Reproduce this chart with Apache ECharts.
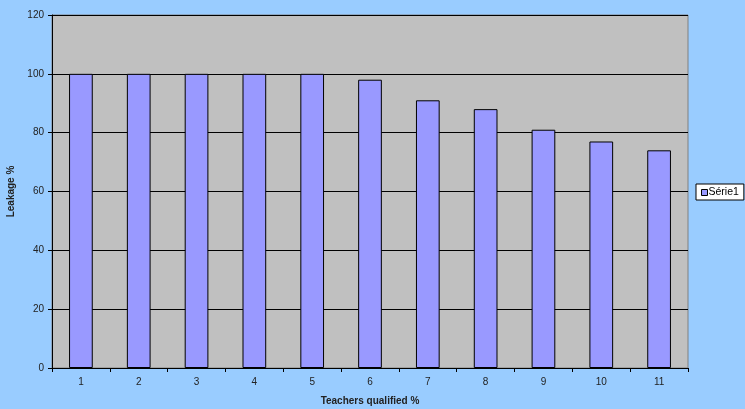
<!DOCTYPE html>
<html>
<head>
<meta charset="utf-8">
<script src="https://cdn.jsdelivr.net/npm/echarts@6/dist/echarts.min.js"></script>
<style>
  html, body { margin: 0; padding: 0; background: #99CCFF; }
  #chart { width: 745px; height: 409px; }
</style>
</head>
<body>
<div id="chart"></div>
<script>
// Categories along the x axis (teachers qualified %)
const categories = ['1', '2', '3', '4', '5', '6', '7', '8', '9', '10', '11'];
// Leakage % for each category
const serie1 = [100, 100, 100, 100, 100, 98, 91, 88, 81, 77, 74];
const seriesName = 'Série1';
const xTitle = 'Teachers qualified %';
const yTitle = 'Leakage %';

const font = 'Liberation Sans, Arial, sans-serif';
const chart = echarts.init(document.getElementById('chart'), null, { renderer: 'canvas' });

chart.setOption({
  backgroundColor: '#99CCFF',
  animation: false,
  grid: {
    left: 52, right: 57, top: 15, bottom: 41,
    containLabel: false,
    outerBoundsMode: 'none',
    show: true,
    backgroundColor: '#C0C0C0',
    borderColor: '#808080',
    borderWidth: 1
  },
  legend: {
    data: [{ name: seriesName, itemStyle: { color: '#9999FF', borderColor: '#000', borderWidth: 1 } }],
    orient: 'vertical',
    left: 696, top: 184,
    backgroundColor: '#FFFFFF',
    borderColor: '#000000',
    borderWidth: 1,
    borderRadius: 0,
    padding: [3, 5, 2, 5],
    itemWidth: 6, itemHeight: 6, itemGap: 2,
    icon: 'rect',
    textStyle: { fontFamily: font, fontSize: 10.5, color: '#000', padding: [0, 0, 0, -4] }
  },
  xAxis: {
    type: 'category',
    data: categories,
    name: xTitle,
    nameLocation: 'middle',
    nameGap: 28,
    nameTextStyle: { fontFamily: font, fontSize: 10, fontWeight: 'bold', color: '#222' },
    axisLine: { show: true, lineStyle: { color: '#000', width: 1 } },
    axisTick: { show: true, inside: false, length: 4, alignWithLabel: false, lineStyle: { color: '#000' } },
    axisLabel: { fontFamily: font, fontSize: 10, color: '#222', margin: 9 },
    splitLine: { show: false }
  },
  yAxis: {
    type: 'value',
    min: 0, max: 120, interval: 20,
    name: yTitle,
    nameLocation: 'middle',
    nameGap: 30,
    nameRotate: 90,
    nameTextStyle: { fontFamily: font, fontSize: 10, fontWeight: 'bold', color: '#222' },
    axisLine: { show: true, lineStyle: { color: '#000', width: 1 } },
    axisTick: { show: true, inside: false, length: 4, lineStyle: { color: '#000' } },
    axisLabel: { fontFamily: font, fontSize: 10, color: '#222', margin: 8 },
    splitLine: { show: true, lineStyle: { color: '#000', width: 1 } }
  },
  series: [{
    name: seriesName,
    type: 'bar',
    data: serie1,
    barCategoryGap: '59%',
    itemStyle: {
      color: '#9999FF',
      borderColor: '#000000',
      borderWidth: 1
    },
    emphasis: { disabled: true }
  }]
});
</script>
</body>
</html>
